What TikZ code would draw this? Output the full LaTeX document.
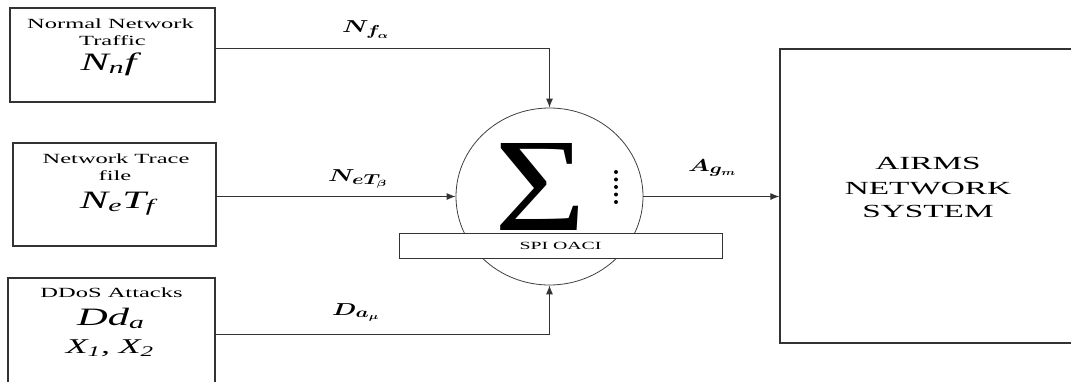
\documentclass[tikz,border=0pt]{standalone}
\usepackage{fontspec}
\setmainfont{Liberation Serif}
\usepackage{graphicx}
\usetikzlibrary{arrows.meta,shapes.geometric}
\newcommand\sx[2]{\scalebox{#1}[1]{#2}}
\newcommand\fs[1]{\fontsize{#1}{#1}\selectfont}
\begin{document}
\begin{tikzpicture}[x=1pt,y=-1pt,
  box/.style={draw=black!80, line width=1.3pt, inner sep=0pt},
  wire/.style={draw=black!80, line width=0.9pt},
  arr/.style={wire, -{Latex[length=9pt,width=7pt]}},
  txt/.style={anchor=base, inner sep=0pt, align=center},
  lab/.style={anchor=base west, inner sep=0pt}]
\useasboundingbox (0,0) rectangle (1071,381);
\clip (0,0) rectangle (1071,381);
% boxes
\node[box, minimum width=205pt, minimum height=94pt] (b1) at (112.5,55) {};
\node[box, minimum width=203pt, minimum height=103pt] (b2) at (114.5,194.5) {};
\node[box, minimum width=207pt, minimum height=122pt] (b3) at (111.5,339) {};
\node[box, minimum width=310pt, minimum height=294pt] (b4) at (935,196) {};
% box texts
\node[txt] (t1a) at (110.5,28) {\sx{1.75}{\fs{14}Normal Network}};
\node[txt] (t1b) at (112.5,45) {\sx{1.75}{\fs{14}Traffic}};
\node[txt] (t1c) at (111,70) {\sx{1.7}{\fs{25}\textit{N\textsubscript{n}f}}};
\node[txt] (t2a) at (116,163) {\sx{1.75}{\fs{14}Network Trace}};
\node[txt] (t2b) at (115,180) {\sx{1.75}{\fs{14}file}};
\node[txt] (t2c) at (117.5,208) {\sx{1.7}{\fs{25}\textit{N\textsubscript{e}T\textsubscript{f}}}};
\node[txt] (t3a) at (111.5,297) {\sx{1.75}{\fs{14}DDoS Attacks}};
\node[txt] (t3b) at (111,325) {\sx{1.7}{\fs{25}\textit{Dd\textsubscript{a}}}};
\node[txt] (t3c) at (110,353) {\sx{1.7}{\fs{21}\textit{X\textsubscript{1}, X\textsubscript{2}}}};
\node[txt] (t4a) at (928,169) {\sx{1.8}{\fs{18.5}AIRMS}};
\node[txt] (t4b) at (928,194) {\sx{1.8}{\fs{18.5}NETWORK}};
\node[txt] (t4c) at (928,217) {\sx{1.8}{\fs{18.5}SYSTEM}};
% summation block
\node[ellipse, draw=black!75, line width=0.8pt, inner sep=0pt,
      minimum width=187pt, minimum height=177pt] (sum) at (549.5,196.5) {};
\node[inner sep=0pt] (sig) at (540,186.5) {\resizebox{92pt}{87pt}{Σ}};
\foreach \i in {0,...,4} \fill (616,172+7.5*\i) circle (2pt);
\node[draw=black!80, line width=0.8pt, fill=white, inner sep=0pt,
      minimum width=323pt, minimum height=25pt] (spi) at (560.5,245.5)
      {\sx{1.8}{\fs{11}SPI OACI}};
% connectors
\coordinate (c1) at (0,48);
\coordinate (c3) at (0,334);
\draw[arr] (b1.east |- c1) -| (sum.north);
\draw[arr] (b2.east |- sum.west) -- (sum.west);
\draw[arr] (b3.east |- c3) -| (sum.south);
\draw[arr] (sum.east) -- (b4.west |- sum.east);
% connector labels
\node[lab] (lf) at (342,32) {\sx{1.45}{\fs{19}\boldmath$N_{f_\alpha}$}};
\node[lab] (le) at (328,181) {\sx{1.45}{\fs{19}\boldmath$N_{eT_\beta}$}};
\node[lab] (ld) at (332,315) {\sx{1.45}{\fs{19}\boldmath$D_{a_\mu}$}};
\node[lab] (la) at (688,171) {\sx{1.45}{\fs{19}\boldmath$A_{g_m}$}};
\end{tikzpicture}
\end{document}
